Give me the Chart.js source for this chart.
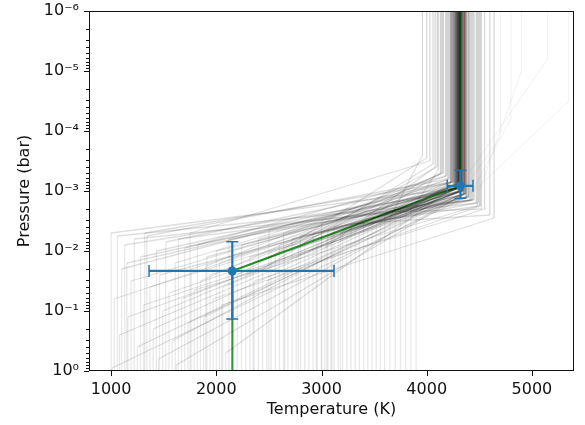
<!DOCTYPE html>
<html>
<head>
<meta charset="utf-8">
<script src="https://cdn.jsdelivr.net/npm/chart.js@4.4.0/dist/chart.umd.min.js"></script>
<style>
html, body { margin: 0; padding: 0; background: #fff; }
</style>
</head>
<body>
<canvas id="canvas1" width="585" height="425"></canvas>
<script>
// posterior samples: lower isotherm T1 up to P1, then straight to (T2, P2), then isotherm T2 to the top
var sampleT1 = [1000, 1010, 1030, 1060, 1080, 1100, 1130, 1160, 1190, 1220,
                1250, 1280, 1310, 1340, 1370, 1400, 1430, 1460, 1490, 1520,
                1550, 1580, 1610, 1640, 1670, 1700, 1730, 1760, 1790, 1820,
                1850, 1880, 1910, 1940, 1970, 2000, 2030, 2060, 2090, 2120,
                2160, 2200, 2240, 2280, 2320, 2360, 2400, 2440, 2480, 2520,
                2560, 2600, 2640, 2680, 2720, 2760, 2800, 2840, 2880, 2920,
                2960, 3000, 3030, 3060, 3090, 3120, 3160, 3200, 3240, 3280,
                3320, 3360, 3400, 3440, 3480, 3520, 3560, 3600, 3650, 3700,
                3750, 3800, 3850, 3900, 1150, 1450, 1750, 2050, 2350, 2650,
                2950, 3050, 3100, 1320, 1620, 1900, 2500, 2780, 3180, 3000];
var sampleLogP1 = [-2.3, -0.05, -1.2, -2.25, -0.6, -1.7, -2.1, -0.9, -1.5, -2.2,
                   -0.4, -1.9, -1.1, -2.25, -1.4, -0.7, -2.0, -1.6, -1.0, -2.15,
                   -1.3, -0.5, -1.8, -2.2, -1.2, -2.05, -0.8, -1.7, -1.35, -2.1,
                   -1.5, -0.9, -1.9, -1.6, -1.2, -2.0, -1.8, -1.4, -0.3, -2.2,
                   -1.9, -1.6, -2.1, -1.6, -1.9, -1.5, -2.2, -1.7, -1.5, -2.0,
                   -1.95, -2.1, -2.3, -1.85, -2.2, -1.9, -2.25, -2.15, -2.0, -2.3,
                   -2.1, -2.3, -2.05, -2.35, -2.2, -2.4, -2.15, -2.35, -2.25, -2.45,
                   -2.35, -2.3, -2.5, -2.4, -2.55, -2.45, -2.5, -2.6, -2.55, -2.65,
                   -2.7, -2.65, -2.75, -2.8, -1.8, -0.2, -2.3, -1.1, -1.8, -2.0,
                   -2.15, -2.2, -2.3, -2.3, -0.1, -1.75, -2.35, -2.05, -2.3, -2.5];
var sampleT2 = [4300, 4380, 4260, 4450, 4310, 4230, 4340, 4350, 4280, 4490,
                4320, 4290, 4400, 4200, 4330, 4300, 4270, 4360, 4310, 4250,
                4340, 4290, 4220, 4420, 4310, 4180, 4370, 4300, 4480, 4280,
                4150, 4330, 4300, 4260, 4510, 4350, 4210, 4320, 4280, 4400,
                4330, 4100, 4290, 4270, 4370, 4550, 4310, 4060, 4340, 4230,
                4000, 4300, 4190, 4340, 4390, 4250, 4470, 4130, 4290, 4320,
                4240, 4310, 4080, 4360, 4300, 4500, 4280, 4440, 4260, 4600,
                4320, 4350, 4140, 4280, 4410, 4300, 4330, 4270, 3960, 4520,
                4370, 4240, 4300, 4110, 4310, 4360, 4030, 4640, 4340, 4270,
                4290, 4330, 4310, 4230, 4350, 4160, 4430, 4290, 4380, 4250];
var sampleLogP2 = [-3.05, -2.9, -3.1, -2.85, -3.0, -3.15, -3.0, -2.95, -3.1, -2.8,
                   -3.0, -3.05, -2.9, -3.2, -3.0, -3.0, -3.1, -2.95, -3.05, -3.15,
                   -3.0, -3.05, -3.2, -2.85, -3.05, -3.25, -2.95, -3.1, -2.75, -3.05,
                   -3.3, -2.95, -3.05, -3.1, -2.75, -3.0, -3.2, -3.0, -3.1, -2.9,
                   -3.0, -3.4, -3.05, -3.1, -2.9, -2.7, -3.05, -3.45, -2.95, -3.15,
                   -3.55, -3.0, -3.25, -3.0, -2.9, -3.1, -2.8, -3.3, -3.05, -3.05,
                   -3.15, -3.0, -3.4, -2.95, -3.05, -2.75, -3.05, -2.85, -3.1, -2.6,
                   -3.0, -2.95, -3.3, -3.1, -2.85, -3.05, -3.0, -3.1, -3.6, -2.7,
                   -2.95, -3.15, -3.0, -3.35, -3.05, -2.95, -3.5, -2.55, -3.0, -3.1,
                   -3.05, -3.0, -3.05, -3.15, -2.95, -3.3, -2.85, -3.1, -2.9, -3.15];
// a few hot samples that keep heating above the knee
var hotT2 = [4400, 4450, 4500, 4380, 4420];
var hotLogP2 = [-3.3, -3.0, -3.0, -3.1, -2.95];
var hotT3 = [5150, 5350, 4900, 4700, 4800];
var hotLogP3 = [-5.2, -4.5, -5.0, -3.9, -4.2];

// median profile
var medianT = [2152, 2152, 4320, 4320];
var medianP = [1, 0.0215, 8.2e-4, 1e-6];
// upper isotherm of the reference profile
var refT = [4360, 4360];
var refP = [8.2e-4, 1e-6];

// retrieved knots with errors
var knotT = [2152, 4320];
var knotP = [0.0215, 8.2e-4];
var knotTlo = [1361, 4195];
var knotThi = [3119, 4440];
var knotPlo = [0.0070, 4.5e-4];
var knotPhi = [0.136, 1.32e-3];

var xTicks = [1000, 2000, 3000, 4000, 5000];
var yTicks = [1e-6, 1e-5, 1e-4, 1e-3, 1e-2, 1e-1, 1];

var supMap = {'-': '\u207B', '0': '\u2070', '1': '\u00B9', '2': '\u00B2', '3': '\u00B3',
              '4': '\u2074', '5': '\u2075', '6': '\u2076', '7': '\u2077', '8': '\u2078', '9': '\u2079'};
function powLabel(v) {
    var e = String(Math.round(Math.log10(v)));
    return '10' + e.split('').map(function(c){ return supMap[c]; }).join('');
}

// the real figure stacks hundreds of faint samples; with fewer samples the
// crowded parts (slope, upper isotherm) get a stronger alpha
var segAlpha = [0.09, 0.13, 0.15];

var datasets = [];
for (var i = 0; i < sampleT1.length; i++) {
    datasets.push({
        data: [
            {x: sampleT1[i], y: 1},
            {x: sampleT1[i], y: Math.pow(10, sampleLogP1[i])},
            {x: sampleT2[i], y: Math.pow(10, sampleLogP2[i])},
            {x: sampleT2[i], y: 1e-6}
        ],
        borderColor: 'rgba(0,0,0,0.09)',
        borderWidth: 1.3,
        segment: {
            borderColor: function(c){ return 'rgba(0,0,0,' + segAlpha[c.p0DataIndex] + ')'; }
        }
    });
}
for (var j = 0; j < hotT2.length; j++) {
    datasets.push({
        data: [
            {x: hotT2[j], y: Math.pow(10, hotLogP2[j])},
            {x: hotT3[j], y: Math.pow(10, hotLogP3[j])},
            {x: hotT3[j], y: 1e-6}
        ],
        borderColor: 'rgba(0,0,0,0.06)',
        borderWidth: 1
    });
}
datasets.push({
    data: refT.map(function(t, k){ return {x: t, y: refP[k]}; }),
    borderColor: 'rgba(214,39,40,0.45)',
    borderWidth: 1
});
datasets.push({
    data: medianT.map(function(t, k){ return {x: t, y: medianP[k]}; }),
    borderColor: '#2ca02c',
    borderWidth: 2
});

var frame = {
    id: 'frame',
    afterDatasetsDraw: function(chart) {
        var ctx = chart.ctx, x = chart.scales.x, y = chart.scales.y;
        ctx.save();
        ctx.strokeStyle = '#1f77b4';
        ctx.fillStyle = '#1f77b4';
        for (var k = 0; k < knotT.length; k++) {
            var px = x.getPixelForValue(knotT[k]), py = y.getPixelForValue(knotP[k]);
            var x0 = x.getPixelForValue(knotTlo[k]), x1 = x.getPixelForValue(knotThi[k]);
            var y0 = y.getPixelForValue(knotPlo[k]), y1 = y.getPixelForValue(knotPhi[k]);
            ctx.lineWidth = 2.2;
            ctx.beginPath();
            ctx.moveTo(x0, py); ctx.lineTo(x1, py);
            ctx.moveTo(px, y0); ctx.lineTo(px, y1);
            ctx.stroke();
            ctx.lineWidth = 1.5;
            ctx.beginPath();
            ctx.moveTo(x0, py - 6); ctx.lineTo(x0, py + 6);
            ctx.moveTo(x1, py - 6); ctx.lineTo(x1, py + 6);
            ctx.moveTo(px - 6, y0); ctx.lineTo(px + 6, y0);
            ctx.moveTo(px - 6, y1); ctx.lineTo(px + 6, y1);
            ctx.stroke();
            ctx.beginPath();
            ctx.arc(px, py, 4.5, 0, Math.PI * 2);
            ctx.fill();
        }
        ctx.restore();
    },
    afterDraw: function(chart) {
        var ctx = chart.ctx, a = chart.chartArea, x = chart.scales.x, y = chart.scales.y;
        ctx.save();
        ctx.strokeStyle = '#111';
        ctx.lineWidth = 1;
        ctx.strokeRect(Math.round(a.left) + 0.5, Math.round(a.top) + 0.5,
                       Math.round(a.right - a.left) - 1, Math.round(a.bottom - a.top) - 1);
        ctx.beginPath();
        xTicks.forEach(function(v){
            var px = Math.round(x.getPixelForValue(v)) + 0.5;
            ctx.moveTo(px, a.bottom); ctx.lineTo(px, a.bottom + 5);
        });
        yTicks.forEach(function(v){
            var py = Math.round(y.getPixelForValue(v)) + 0.5;
            ctx.moveTo(a.left - 5, py); ctx.lineTo(a.left, py);
        });
        for (var e = -6; e < 0; e++) {
            for (var m = 2; m <= 9; m++) {
                var py2 = Math.round(y.getPixelForValue(m * Math.pow(10, e))) + 0.5;
                ctx.moveTo(a.left - 3, py2); ctx.lineTo(a.left, py2);
            }
        }
        ctx.stroke();
        ctx.restore();
    }
};

Chart.defaults.font.family = "'DejaVu Sans'";
Chart.defaults.color = '#111';

new Chart(document.getElementById('canvas1'), {
    type: 'scatter',
    data: { datasets: datasets },
    options: {
        responsive: false,
        animation: false,
        showLine: true,
        elements: { point: { radius: 0, hoverRadius: 0 }, line: { tension: 0 } },
        layout: { padding: { left: 0, top: 11, right: 11, bottom: 0 } },
        plugins: { legend: { display: false }, tooltip: { enabled: false } },
        events: [],
        scales: {
            x: {
                type: 'linear',
                min: 790,
                max: 5400,
                afterBuildTicks: function(s){ s.ticks = xTicks.map(function(v){ return {value: v}; }); },
                afterFit: function(s){ s.height = 54; s.paddingLeft = 0; s.paddingRight = 0; },
                grid: { drawOnChartArea: false, drawTicks: false },
                border: { display: false },
                ticks: { font: { size: 16 }, padding: 9, maxRotation: 0, autoSkip: false,
                         callback: function(v){ return String(v); } },
                title: { display: true, text: 'Temperature (K)', font: { size: 16 }, padding: { top: 0, bottom: 6 } }
            },
            y: {
                type: 'logarithmic',
                reverse: true,
                min: 1e-6,
                max: 1,
                afterBuildTicks: function(s){ s.ticks = yTicks.map(function(v){ return {value: v}; }); },
                afterFit: function(s){ s.width = 89; s.paddingTop = 0; s.paddingBottom = 0; },
                grid: { drawOnChartArea: false, drawTicks: false },
                border: { display: false },
                ticks: { font: { size: 16 }, padding: 10, autoSkip: false, callback: function(v){ return powLabel(v); } },
                title: { display: true, text: 'Pressure (bar)', font: { size: 16 }, padding: { top: 15, bottom: 0 } }
            }
        }
    },
    plugins: [frame]
});
</script>
</body>
</html>
